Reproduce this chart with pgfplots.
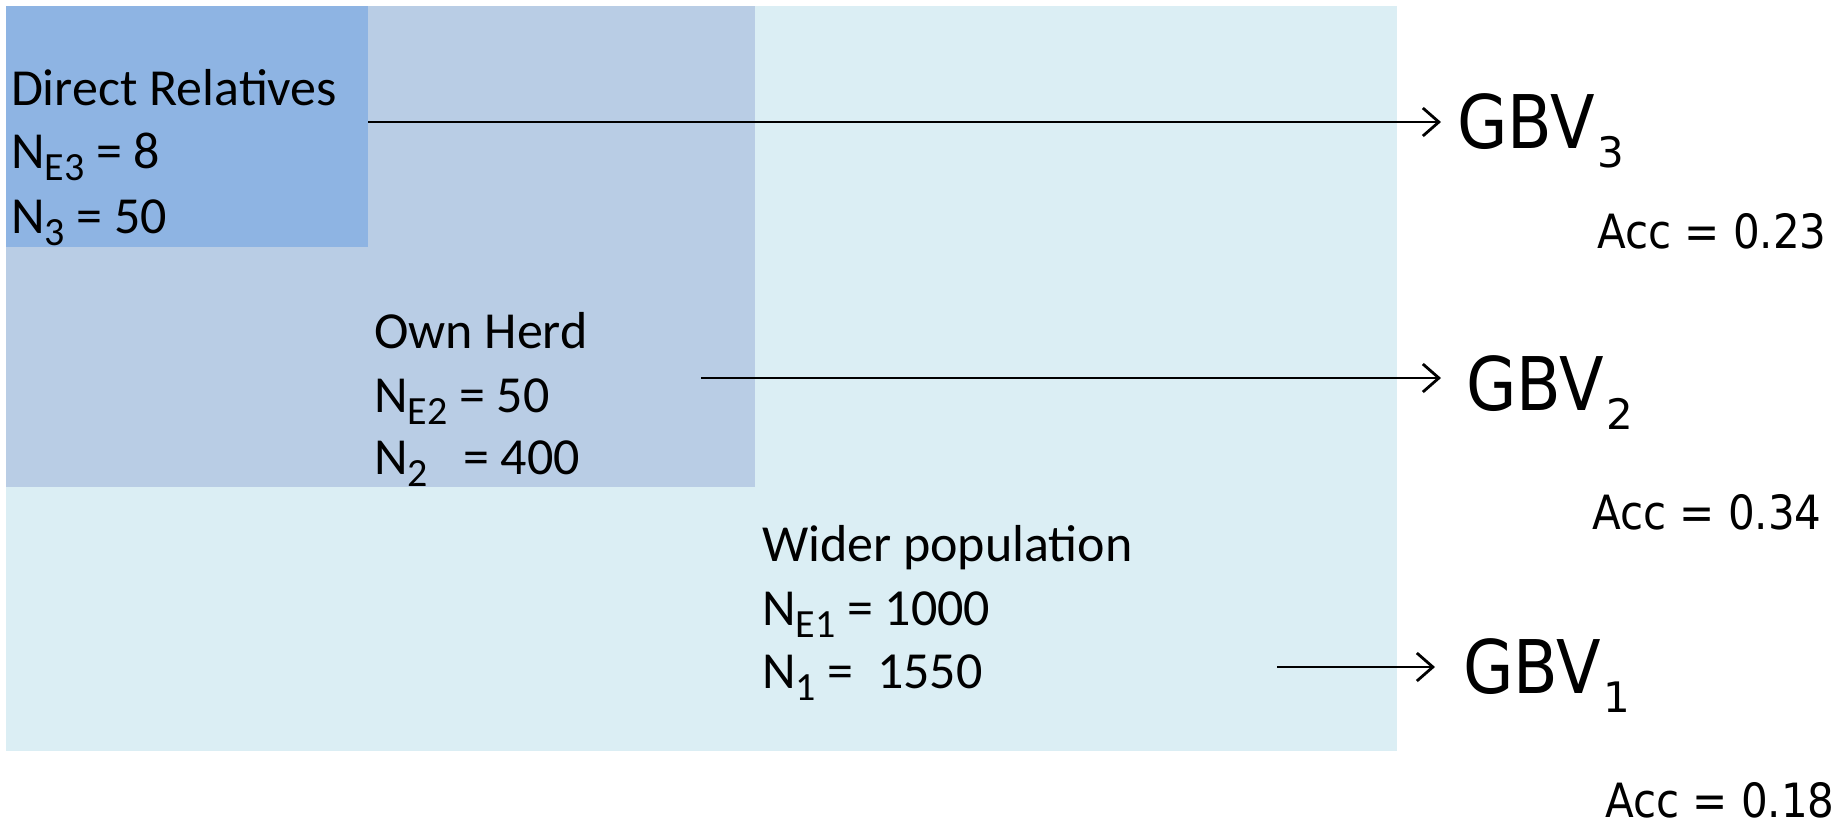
\documentclass[border=0pt]{standalone}
\usepackage{pgfplots}
\pgfplotsset{compat=1.18}
\usetikzlibrary{arrows.meta}
\usepackage{fontspec}
\setmainfont{Carlito}
\newfontfamily\dv{DejaVu Sans}
\definecolor{cDirect}{HTML}{8EB4E3}
\definecolor{cHerd}{HTML}{B9CDE5}
\definecolor{cWide}{HTML}{DBEEF4}
\newcommand{\lsub}[1]{\raisebox{-3pt}{\fontsize{10pt}{10pt}\selectfont #1}}
\newcommand{\gbv}[1]{\scalebox{0.88}[1]{GBV}\kern0.6pt\raisebox{-4.8pt}{\fontsize{10.5pt}{10.5pt}\selectfont #1}}
\newcommand{\acc}[1]{\scalebox{0.89}[1]{Acc = #1}}
\tikzset{lt/.style={inner sep=0pt, outer sep=0pt, anchor=base west, font=\fontsize{13pt}{15pt}\selectfont},
  gt/.style={inner sep=0pt, outer sep=0pt, anchor=base west, font=\dv\fontsize{18.5pt}{20pt}\selectfont},
  acct/.style={inner sep=0pt, outer sep=0pt, anchor=base west, font=\dv\fontsize{11.8pt}{14pt}\selectfont}}
\begin{document}
\begin{tikzpicture}
\begin{axis}[
  scale only axis, width=461.25pt, height=207.25pt,
  xmin=0, xmax=1845, ymin=0, ymax=829, y dir=reverse,
  hide axis, clip=false,
]
% bounding
\addplot[draw=none, forget plot] coordinates {(0,0) (1845,829)};
% rectangles
\addplot[fill=cWide, draw=none] coordinates {(6,6) (1397,6) (1397,751) (6,751)} -- cycle;
\addplot[fill=cHerd, draw=none] coordinates {(6,6) (755,6) (755,487) (6,487)} -- cycle;
\addplot[fill=cDirect, draw=none] coordinates {(6,6) (368,6) (368,247) (6,247)} -- cycle;
% arrows
\addplot[line width=0.7pt, -{Straight Barb[length=4pt,width=7pt,line width=0.7pt]}] coordinates {(368,122) (1441,122)};
\addplot[line width=0.7pt, -{Straight Barb[length=4pt,width=7pt,line width=0.7pt]}] coordinates {(701,378) (1441,378)};
\addplot[line width=0.7pt, -{Straight Barb[length=4pt,width=7pt,line width=0.7pt]}] coordinates {(1277,667) (1435,667)};
% left texts
\node[lt] at (axis cs:11,105) {Direct Relatives};
\node[lt] at (axis cs:11,168) {N\lsub{E3} = 8};
\node[lt] at (axis cs:11,233) {N\lsub{3} = 50};
\node[lt] at (axis cs:374,348) {Own Herd};
\node[lt] at (axis cs:374,412) {N\lsub{E2} = 50};
\node[lt] at (axis cs:374,474) {N\lsub{2}\ \ \ = 400};
\node[lt] at (axis cs:762,561) {Wider population};
\node[lt] at (axis cs:762,625) {N\lsub{E1} = 1000};
\node[lt] at (axis cs:762,688) {N\lsub{1} = \ 1550};
% right texts
\node[gt] at (axis cs:1457,148) {\gbv{3}};
\node[gt] at (axis cs:1466,410) {\gbv{2}};
\node[gt] at (axis cs:1463,693) {\gbv{1}};
\node[acct] at (axis cs:1597,248) {\acc{0.23}};
\node[acct] at (axis cs:1592,529) {\acc{0.34}};
\node[acct] at (axis cs:1605,817) {\acc{0.18}};
\end{axis}
\end{tikzpicture}
\end{document}
